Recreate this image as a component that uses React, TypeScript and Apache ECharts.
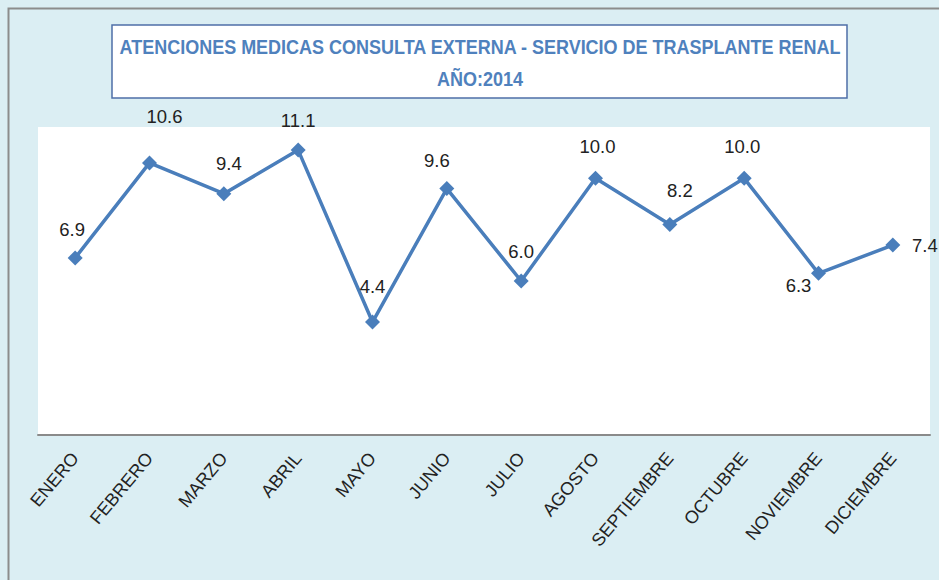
import React, { useEffect, useRef } from "react";
import * as echarts from "echarts";

const months = [
  "ENERO", "FEBRERO", "MARZO", "ABRIL", "MAYO", "JUNIO",
  "JULIO", "AGOSTO", "SEPTIEMBRE", "OCTUBRE", "NOVIEMBRE", "DICIEMBRE",
];
const values = [6.9, 10.6, 9.4, 11.1, 4.4, 9.6, 6.0, 10.0, 8.2, 10.0, 6.3, 7.4];
const titleLine1 = "ATENCIONES MEDICAS CONSULTA EXTERNA - SERVICIO DE TRASPLANTE RENAL";
const titleLine2 = "AÑO:2014";

const FONT = "'Liberation Sans', 'Noto Sans', sans-serif";

// label placement style per point (offset in px)
const labelOffsets: [number, number][] = [
  [-3, -6], [15, -24], [5, -8], [0, -8], [0, -14], [-10, -6],
  [0, -8], [2, -10], [10, -12], [-2, -10], [-20, 34], [32, 22],
];

export default function App() {
  const ref = useRef<HTMLDivElement>(null);
  useEffect(() => {
    if (!ref.current) return;
    const chart = echarts.init(ref.current, null, { renderer: "svg" });
    chart.setOption({
      animation: false,
      backgroundColor: "#DBEEF3",
      graphic: [
        {
          type: "rect",
          shape: { x: 8.5, y: 8.5, width: 940, height: 580 },
          style: { fill: "none", stroke: "#8c8c8c", lineWidth: 2 },
          z: 0,
        },
        {
          type: "rect",
          shape: { x: 112, y: 25, width: 735, height: 73 },
          style: { fill: "#ffffff", stroke: "#4F6FA8", lineWidth: 1.5 },
          z: 10,
        },
        {
          type: "text",
          x: 480,
          y: 47,
          scaleX: 0.9,
          style: {
            text: titleLine1,
            fill: "#4F81BD",
            font: `bold 20px ${FONT}`,
            align: "center",
            verticalAlign: "middle",
          },
          z: 11,
        },
        {
          type: "text",
          x: 480,
          y: 79,
          scaleX: 0.9,
          style: {
            text: titleLine2,
            fill: "#4F81BD",
            font: `bold 20px ${FONT}`,
            align: "center",
            verticalAlign: "middle",
          },
          z: 11,
        },
      ],
      grid: {
        left: 38,
        right: 9,
        top: 127,
        bottom: 145,
        show: true,
        backgroundColor: "#ffffff",
        borderWidth: 0,
      },
      xAxis: {
        type: "category",
        data: months,
        boundaryGap: true,
        axisLine: { show: true, lineStyle: { color: "#8a8a8a", width: 2 } },
        axisTick: { show: false },
        axisLabel: {
          rotate: 50,
          margin: 20,
          color: "#222",
          fontSize: 18,
          fontFamily: FONT,
          interval: 0,
        },
      },
      yAxis: {
        type: "value",
        min: 0,
        max: 12,
        show: false,
        splitLine: { show: false },
      },
      series: [
        {
          type: "line",
          data: values.map((v, i) => ({
            value: v,
            label: { offset: labelOffsets[i] },
          })),
          symbol: "diamond",
          symbolSize: 15,
          lineStyle: { color: "#4A7EBB", width: 3.5 },
          itemStyle: { color: "#4A7EBB" },
          label: {
            show: true,
            position: "top",
            color: "#222",
            fontSize: 18.5,
            fontFamily: FONT,
            formatter: (p: any) => Number(p.value).toFixed(1),
          },
        },
      ],
    });
    return () => chart.dispose();
  }, []);
  return (
    <div
      ref={ref}
      style={{ position: "fixed", left: 0, top: 0, width: 939, height: 580 }}
    />
  );
}
